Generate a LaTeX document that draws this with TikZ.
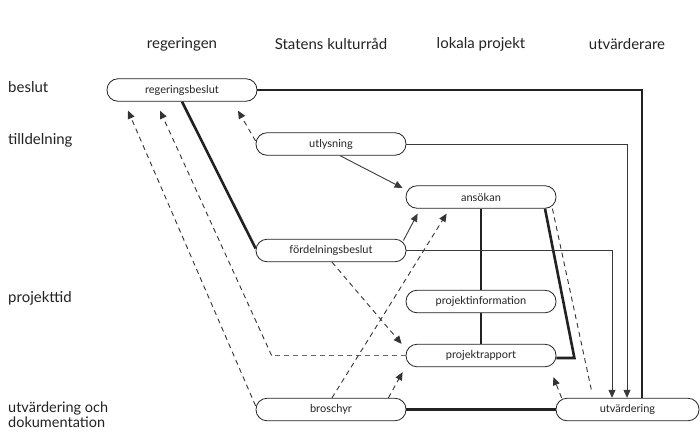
\documentclass[tikz,border=0pt]{standalone}
\usepackage{fontspec}
\setmainfont{Lato}
\usetikzlibrary{arrows.meta,calc}
\definecolor{ink}{HTML}{222222}
\definecolor{thin}{HTML}{3A3A3A}
\definecolor{dash}{HTML}{333333}
\definecolor{lightdash}{HTML}{666666}
\tikzset{
  box/.style={draw=ink,line width=0.8pt,rounded corners=11pt,minimum width=150pt,minimum height=22.5pt,inner sep=0pt,font=\fontsize{11}{13}\selectfont,text=ink},
  hdr/.style={font=\fontsize{15}{17}\selectfont,text=ink},
  rowlab/.style={font=\fontsize{15}{16}\selectfont,text=ink,anchor=west,align=left,inner sep=0pt},
  heavy/.style={draw=ink,line width=2.6pt},
  thinarr/.style={draw=thin,line width=0.9pt,-{Triangle[length=8pt,width=7pt]}},
  dasharr/.style={draw=dash,line width=0.9pt,dash pattern=on 5pt off 4pt,-{Triangle[length=8pt,width=7pt]}},
  dashln/.style={draw=dash,line width=0.9pt,dash pattern=on 5pt off 4pt},
}
\begin{document}
\begin{tikzpicture}[x=1pt,y=-1pt]
\useasboundingbox (0,0) rectangle (700,432);
% headers
\node[hdr] (h1) at (182,44) {regeringen};
\node[hdr] (h2) at (331,44) {Statens kulturråd};
\node[hdr] (h3) at (481,44) {lokala projekt};
\node[hdr] (h4) at (627,44) {utvärderare};
% row labels
\node[rowlab] (r1) at (8,87) {beslut};
\node[rowlab] (r2) at (8,140) {tilldelning};
\node[rowlab] (r3) at (8,298) {projekttid};
\node[rowlab,font=\fontsize{14.5}{16}\selectfont] (r4a) at (8,408.5) {utvärdering och};
\node[rowlab,font=\fontsize{14.5}{16}\selectfont] (r4b) at (8,422.5) {dokumentation};
% boxes
\node[box] (rb) at (182,90) {regeringsbeslut};
\node[box] (ut) at (331,144) {utlysning};
\node[box] (ans) at (481,197) {ansökan};
\node[box] (fb) at (331,250.5) {fördelningsbeslut};
\node[box] (pi) at (481,301.5) {projektinformation};
\node[box] (pr) at (481,355.5) {projektrapport};
\node[box] (br) at (331,409.5) {broschyr};
\node[box,minimum width=143pt] (utv) at (627.5,409.5) {utvärdering};
% heavy lines
\draw[heavy] (rb.east) -| ($(utv.north)+(14.5,0)$);
\draw[heavy] (rb.south) -- ($(fb.west)+(0,-2)$);
\draw[heavy] (ans.south) -- (pi.north);
\draw[heavy] (pi.south) -- (pr.north);
\draw[heavy] ($(ans.south)+(64,0)$) -- ($(pr.east)+(18,2.5)$) -- ($(pr.east)+(0,2.5)$);
\draw[heavy] (br.east) -- (utv.west);
% thin arrows
\draw[thinarr] (ut.east) -| ($(utv.north)+(-0.5,0)$);
\draw[thinarr] (fb.east) -| ($(utv.north)+(-15.5,0)$);
\draw[thinarr] ($(ut.south)+(9,0)$) -- ($(ans.west)+(-3,-9)$);
\draw[thinarr] ($(fb.east)+(-3,-10)$) -- ($(ans.south west)+(12,5)$);
% dashed
\draw[dasharr] ($(ut.west)+(0,-3)$) -- ($(rb.south)+(56,9)$);
\draw[dasharr] ($(br.north west)+(0,8)$) -- ($(rb.south)+(-54,9)$);
\draw[lightdash,line width=0.9pt,dash pattern=on 5pt off 4pt] (pr.west) -- ($(pr.west)+(-134,0)$);
\draw[dasharr] ($(pr.west)+(-134,0)$) -- ($(rb.south)+(-22,9)$);
\draw[dasharr] ($(br.north)+(1,0)$) -- ($(ans.south west)+(41,5)$);
\draw[dasharr] ($(fb.south)+(1,0)$) -- ($(pr.north west)+(-4,0)$);
\draw[dasharr] ($(br.north east)+(-18,0)$) -- ($(pr.south west)+(-3,5)$);
\draw[dashln] ($(ans.south east)+(-4,0)$) -- ($(utv.north)+(-35.5,-5)$);
\draw[dasharr] ($(utv.north west)+(6,0)$) -- ($(pr.south east)+(-3,10)$);
\end{tikzpicture}
\end{document}
